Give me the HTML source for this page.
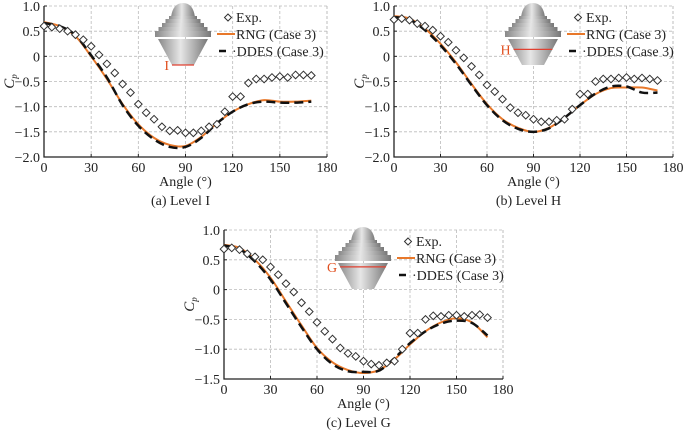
<!DOCTYPE html>
<html><head><meta charset="utf-8"><style>
body{margin:0;background:#fff;width:685px;height:434px;overflow:hidden}
text{font-family:"Liberation Serif",serif;fill:#222}
</style></head><body>
<svg id="s" width="685" height="434" xmlns="http://www.w3.org/2000/svg">
<defs><linearGradient id="g" x1="0" x2="1"><stop offset="0" stop-color="#888"/><stop offset="0.45" stop-color="#e6e6e6"/><stop offset="1" stop-color="#777"/></linearGradient></defs>
</svg>
<script>
const angles=[0,5,10,15,20,25,30,35,40,45,50,55,60,65,70,75,80,85,90,95,100,105,110,115,120,125,130,135,140,145,150,155,160,165,170];
const simAngles=[0,10,20,30,40,50,60,70,80,90,100,110,120,130,140,150,160,170];
const expA=[0.6,0.58,0.55,0.5,0.43,0.33,0.2,0.03,-0.15,-0.33,-0.55,-0.72,-0.95,-1.12,-1.25,-1.4,-1.48,-1.47,-1.52,-1.52,-1.48,-1.4,-1.35,-1.1,-0.8,-0.8,-0.53,-0.45,-0.45,-0.42,-0.4,-0.42,-0.37,-0.37,-0.38];
const rngA=[0.68,0.6,0.4,0.0,-0.45,-0.95,-1.35,-1.62,-1.76,-1.78,-1.6,-1.33,-1.1,-0.95,-0.87,-0.9,-0.9,-0.88];
const ddesA=[0.66,0.6,0.42,0.02,-0.42,-0.97,-1.38,-1.65,-1.8,-1.8,-1.62,-1.33,-1.1,-0.95,-0.9,-0.92,-0.92,-0.9];
const expB=[0.73,0.75,0.72,0.65,0.6,0.52,0.4,0.28,0.12,-0.03,-0.2,-0.37,-0.57,-0.7,-0.85,-1.02,-1.12,-1.17,-1.25,-1.3,-1.3,-1.27,-1.25,-1.05,-0.75,-0.75,-0.5,-0.45,-0.45,-0.43,-0.42,-0.45,-0.43,-0.45,-0.48];
const rngB=[0.8,0.75,0.55,0.25,-0.12,-0.55,-0.95,-1.25,-1.42,-1.5,-1.42,-1.22,-0.97,-0.75,-0.63,-0.62,-0.62,-0.68];
const ddesB=[0.78,0.73,0.52,0.22,-0.15,-0.57,-0.97,-1.27,-1.44,-1.5,-1.43,-1.22,-0.97,-0.74,-0.6,-0.6,-0.72,-0.72];
const expC=[0.68,0.7,0.67,0.6,0.55,0.5,0.38,0.25,0.1,-0.04,-0.22,-0.37,-0.55,-0.7,-0.83,-0.98,-1.07,-1.12,-1.2,-1.25,-1.27,-1.23,-1.2,-1.0,-0.73,-0.73,-0.5,-0.44,-0.45,-0.43,-0.43,-0.45,-0.43,-0.42,-0.47];
const rngC=[0.75,0.7,0.5,0.2,-0.2,-0.6,-0.98,-1.22,-1.35,-1.4,-1.35,-1.17,-0.92,-0.7,-0.55,-0.48,-0.55,-0.8];
const ddesC=[0.74,0.68,0.47,0.17,-0.23,-0.63,-1.0,-1.25,-1.37,-1.38,-1.36,-1.15,-0.9,-0.7,-0.57,-0.52,-0.56,-0.77];
const xTicks=[0,30,60,90,120,150,180];
const yTicksAB=[1.0,0.5,0,-0.5,-1.0,-1.5,-2.0];
const yTicksC=[1.0,0.5,0,-0.5,-1.0,-1.5];
const yLabAB=["1.0","0.5","0","\u22120.5","\u22121.0","\u22121.5","\u22122.0"];
const yLabC=["1.0","0.5","0","\u22120.5","\u22121.0","\u22121.5"];

const NS="http://www.w3.org/2000/svg",svg=document.getElementById('s');
function mk(tag,at,parent,txt){const e=document.createElementNS(NS,tag);for(const k in at)e.setAttribute(k,at[k]);if(txt!==undefined)e.textContent=txt;(parent||svg).appendChild(e);return e;}
function smooth(p){let d="M"+p[0][0]+","+p[0][1];for(let i=0;i<p.length-1;i++){const a=p[Math.max(i-1,0)],b=p[i],c=p[i+1],e=p[Math.min(i+2,p.length-1)];d+=" C"+(b[0]+(c[0]-a[0])/6)+","+(b[1]+(c[1]-a[1])/6)+" "+(c[0]-(e[0]-b[0])/6)+","+(c[1]-(e[1]-b[1])/6)+" "+c[0]+","+c[1];}return d;}

function panel(id,x0,x1,yTop,yBot,ymax,ymin,yt,yl,exp,rng,ddes,level,cap,lineFrac){
  const g=mk('g',{});
  
  
  const X=a=>x0+(a/180)*(x1-x0), Y=v=>yTop+(ymax-v)/(ymax-ymin)*(yBot-yTop);
  xTicks.forEach(t=>{if(t>0){const l=mk('line',{x1:X(t),x2:X(t),y1:yTop,y2:yBot,stroke:'#bbb','stroke-dasharray':'3,2','stroke-width':0.8},g);}});
  yt.forEach(t=>{if(t<ymax&&t>ymin){const l=mk('line',{x1:x0,x2:x1,y1:Y(t),y2:Y(t),stroke:'#bbb','stroke-dasharray':'3,2','stroke-width':0.8},g);}});
  mk('line',{x1:x0,x2:x1,y1:yTop,y2:yTop,stroke:'#bbb','stroke-dasharray':'3,2','stroke-width':0.8},g);
  mk('line',{x1:x1,x2:x1,y1:yTop,y2:yBot,stroke:'#bbb','stroke-dasharray':'3,2','stroke-width':0.8},g);
  const ax=mk('path',{d:`M${x0},${yTop}V${yBot}H${x1}`,fill:'none',stroke:'#222','stroke-width':1.3},g);
  
  xTicks.forEach(t=>{mk('line',{x1:X(t),x2:X(t),y1:yBot,y2:yBot-3,stroke:'#222'},g);
    const tx=mk('text',{x:X(t),y:yBot+15,'text-anchor':'middle','font-size':14},g,String(t));
    });
  yt.forEach((t,i)=>{mk('line',{x1:x0,x2:x0+3,y1:Y(t),y2:Y(t),stroke:'#222'},g);
    const tx=mk('text',{x:x0-4,y:Y(t)+5,'text-anchor':'end','font-size':14},g,yl[i]);
    });
  const xt=mk('text',{x:(x0+x1)/2,y:yBot+29,'text-anchor':'middle','font-size':14},g,'Angle (°)');
  
  const yti=mk('text',{x:0,y:0,'text-anchor':'middle','font-size':15,'font-style':'italic',transform:`translate(${x0-30},${(yTop+yBot)/2}) rotate(-90)`},g);
  
  mk('tspan',{},yti,'C');mk('tspan',{'font-size':9,dy:3},yti,'p');
  const ct=mk('text',{x:(x0+x1)/2-5,y:yBot+48,'text-anchor':'middle','font-size':14},g,cap);
  
  const cx=x0+139, iy=yTop-3;
  const ins=mk('g',{},g);
  mk('path',{d:`M${cx-12},${iy+14} Q${cx-10},${iy} ${cx},${iy} Q${cx+10},${iy} ${cx+12},${iy+14}Z`,fill:'url(#g)'},ins);
  [[14,15],[17,18],[20,22],[23,26],[26,30]].forEach((s,i)=>mk('rect',{x:cx-s[0]-i*0.5,y:iy+s[1]-2,width:2*s[0]+i,height:6,fill:'url(#g)'},ins));
  mk('path',{d:`M${cx-25},${iy+36} L${cx+25},${iy+36} L${cx+11},${iy+62} L${cx-11},${iy+62}Z`,fill:'url(#g)'},ins);
  const ly=iy+36+lineFrac*26, hw=25-lineFrac*14;
  mk('line',{x1:cx-hw,x2:cx+hw,y1:ly,y2:ly,stroke:'#e04030','stroke-width':1.2},ins);
  mk('text',{x:cx-hw-3,y:ly+5,'text-anchor':'end','font-size':14,style:'fill:#e05020'},ins,level);
  const lx=x0+184, lg=mk('g',{},g);
  const l1=mk('g',{},lg);
  mk('path',{d:`M${lx},${iy+11} l3.5,3.5 l-3.5,3.5 l-3.5,-3.5Z`,fill:'#fff',stroke:'#333'},l1);
  mk('text',{x:lx+8,y:iy+19,'font-size':14},l1,'Exp.');
  const l2=mk('g',{},lg);
  mk('line',{x1:lx-11,x2:lx+7,y1:iy+31,y2:iy+31,stroke:'#e8782a','stroke-width':2},l2);
  mk('text',{x:lx+8,y:iy+36,'font-size':14},l2,'RNG (Case 3)');
  const l3=mk('g',{},lg);
  mk('line',{x1:lx-9,x2:lx-2,y1:iy+48,y2:iy+48,stroke:'#111','stroke-width':2.5},l3);
  mk('text',{x:lx+4,y:iy+53,'font-size':14},l3,'·DDES (Case 3)');
  const rp=mk('path',{d:smooth(simAngles.map((a,i)=>[X(a),Y(rng[i])])),fill:'none',stroke:'#e8782a','stroke-width':2},g);
  
  const dp=mk('path',{d:smooth(simAngles.map((a,i)=>[X(a),Y(ddes[i])])),fill:'none',stroke:'#111','stroke-width':2.5,'stroke-dasharray':'9,5'},g);
  
  angles.forEach((a,i)=>{const px=X(a),py=Y(exp[i]);
    const m=mk('path',{d:`M${px},${py-3.8} l3.8,3.8 l-3.8,3.8 l-3.8,-3.8Z`,fill:'#fff',stroke:'#333','stroke-width':1},g);
    });
}
panel('a',44,327,6,157,1.0,-2.0,yTicksAB,yLabAB,expA,rngA,ddesA,'I','(a) Level I',1.0);
panel('b',394,673,6,157,1.0,-2.0,yTicksAB,yLabAB,expB,rngB,ddesB,'H','(b) Level H',0.4);
panel('c',224,503,230,379,1.0,-1.5,yTicksC,yLabC,expC,rngC,ddesC,'G','(c) Level G',0.15);
</script>
</body></html>
